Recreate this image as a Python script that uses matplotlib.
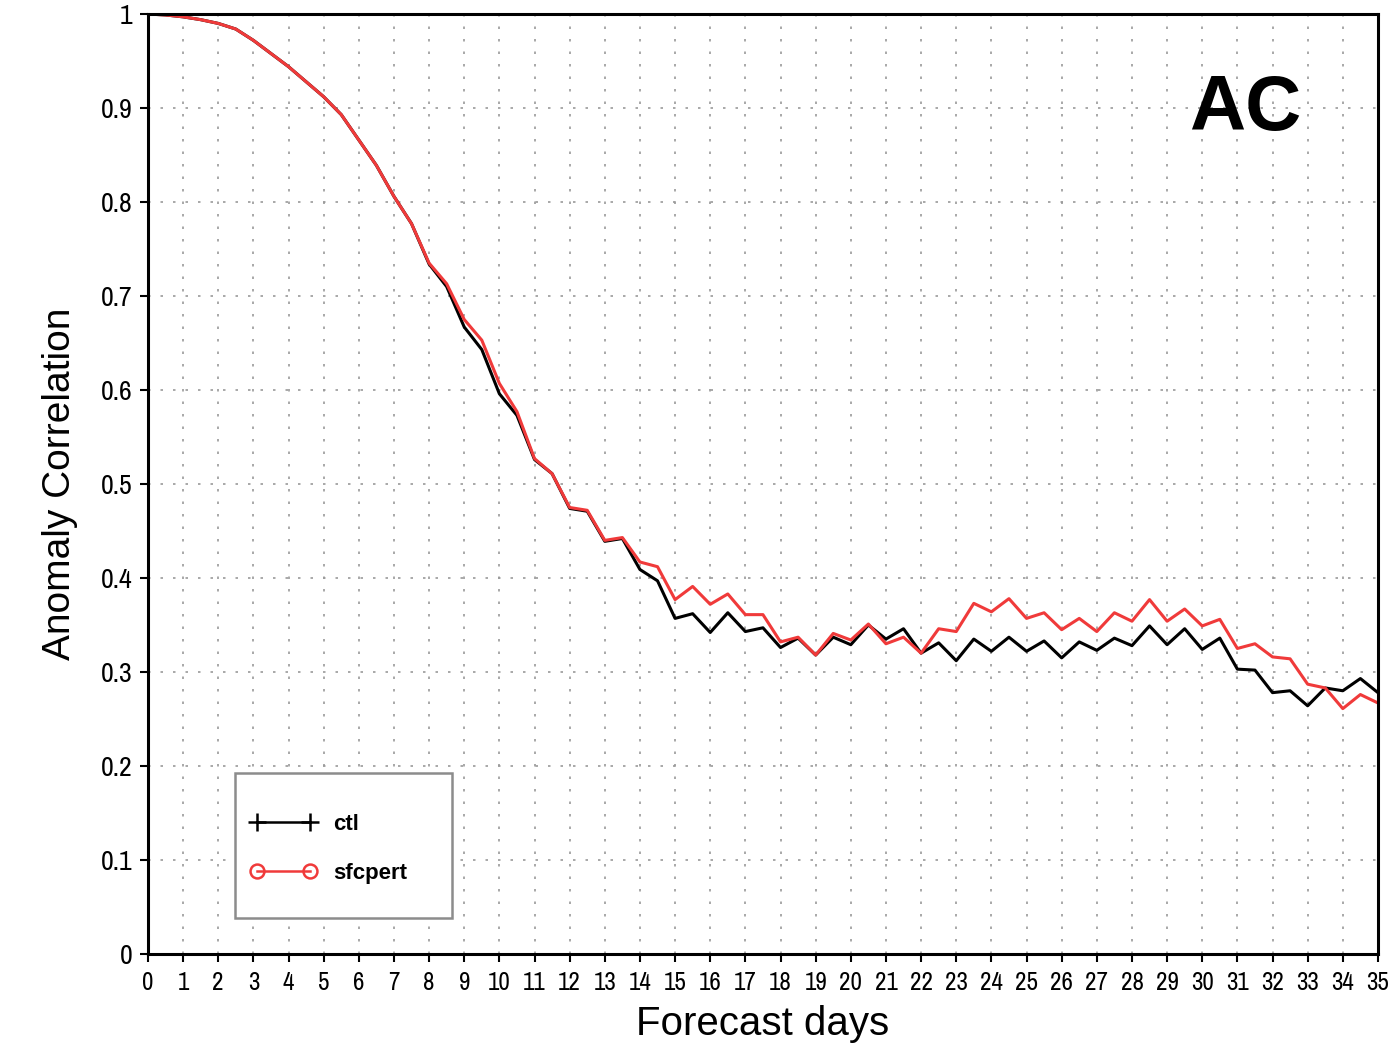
"""
plot.py — Anomaly Correlation vs forecast days (ctl vs sfcpert)
"""

import numpy as np

import matplotlib
matplotlib.use("Agg")
import matplotlib.pyplot as plt
from matplotlib import font_manager
from matplotlib.font_manager import FontProperties
from matplotlib.lines import Line2D
from matplotlib.patches import Rectangle

# forecast lead (days), every 12 h
days = np.arange(0, 35.5, 0.5)

ctl = [
    1.000, 0.999, 0.997, 0.994, 0.990, 0.984, 0.972, 0.958, 0.944, 0.928,
    0.912, 0.893, 0.866, 0.839, 0.806, 0.777, 0.734, 0.710, 0.667, 0.643,
    0.596, 0.573, 0.526, 0.511, 0.474, 0.471, 0.439, 0.442, 0.409, 0.397,
    0.357, 0.362, 0.342, 0.363, 0.343, 0.347, 0.326, 0.336, 0.318, 0.337,
    0.329, 0.350, 0.335, 0.346, 0.320, 0.331, 0.312, 0.335, 0.322, 0.337,
    0.322, 0.333, 0.315, 0.332, 0.323, 0.336, 0.328, 0.349, 0.329, 0.346,
    0.324, 0.336, 0.303, 0.302, 0.278, 0.280, 0.264, 0.283, 0.280, 0.293,
    0.278,
]

sfcpert = [
    1.000, 0.999, 0.997, 0.994, 0.990, 0.984, 0.972, 0.958, 0.944, 0.928,
    0.912, 0.893, 0.866, 0.839, 0.806, 0.777, 0.735, 0.713, 0.675, 0.653,
    0.607, 0.577, 0.527, 0.511, 0.475, 0.472, 0.440, 0.443, 0.417, 0.412,
    0.377, 0.391, 0.372, 0.383, 0.361, 0.361, 0.332, 0.337, 0.318, 0.341,
    0.334, 0.351, 0.330, 0.337, 0.320, 0.346, 0.343, 0.373, 0.364, 0.378,
    0.357, 0.363, 0.345, 0.357, 0.343, 0.363, 0.354, 0.377, 0.354, 0.367,
    0.349, 0.356, 0.325, 0.330, 0.316, 0.314, 0.287, 0.283, 0.261, 0.276,
    0.267,
]

xticks = list(range(0, 36))
yticks = [0, 0.1, 0.2, 0.3, 0.4, 0.5, 0.6, 0.7, 0.8, 0.9, 1.0]
ytick_labels = ["0", "0.1", "0.2", "0.3", "0.4", "0.5", "0.6", "0.7", "0.8", "0.9", "1"]

RED = "#f03a3a"


def pick_font(candidates, default="DejaVu Sans"):
    names = {f.name for f in font_manager.fontManager.ttflist}
    for c in candidates:
        if c in names:
            return c
    return default


def _weight(f):
    w = f.weight
    if isinstance(w, str):
        w = font_manager.weight_dict.get(w, 400)
    return w


def narrow_font(size):
    """Thin condensed face for tick labels (GrADS look); falls back to SANS."""
    found = []
    for f in font_manager.fontManager.ttflist:
        narrow = ("Condensed" in f.name or "Narrow" in f.name
                  or f.stretch in ("condensed", "semi-condensed", "extra-condensed"))
        if narrow and f.style == "normal" and _weight(f) <= 400:
            found.append(f)
    if found:
        found.sort(key=lambda f: (abs(_weight(f) - 350), f.name))
        return FontProperties(fname=found[0].fname, size=size)
    return FontProperties(family=SANS, size=size * 0.8)


SANS = pick_font(["Liberation Sans", "DejaVu Sans"])
XTICK_FONT = narrow_font(18)
YTICK_FONT = narrow_font(20)


def plot(outpath):
    fig = plt.figure(figsize=(13.93, 10.46), dpi=100)
    ax = fig.add_axes([0.1062, 0.0880, 0.8830, 0.8986])

    ax.plot(days, ctl, color="black", lw=2.2, zorder=3)
    ax.plot(days, sfcpert, color=RED, lw=2.2, zorder=4)

    ax.set_xlim(0, 35)
    ax.set_ylim(0, 1)
    ax.set_xticks(xticks)
    ax.set_xticklabels([str(t) for t in xticks], fontproperties=XTICK_FONT)
    ax.set_yticks(yticks)
    ax.set_yticklabels(ytick_labels, fontproperties=YTICK_FONT)
    ax.tick_params(direction="out", length=6, width=1.5, color="black")
    ax.tick_params(axis="x", pad=6)
    ax.tick_params(axis="y", pad=5)

    ax.grid(True, color="#9a9a9a", lw=1.2, linestyle=(0, (1.5, 6)))
    ax.set_axisbelow(True)
    for sp in ax.spines.values():
        sp.set_linestyle((0, (4, 1)))
        sp.set_linewidth(2.2)
        sp.set_zorder(5)

    ax.set_ylabel("Anomaly Correlation", fontfamily=SANS, fontsize=28)
    ax.yaxis.set_label_coords(-0.057, 0.5)
    ax.set_xlabel("Forecast days", fontfamily=SANS, fontsize=29)
    ax.xaxis.set_label_coords(0.5, -0.054)

    ax.text(0.892, 0.898, "AC", transform=ax.transAxes, ha="center", va="center",
            fontfamily=SANS, fontweight="bold", fontsize=56)

    # legend box
    ax.add_patch(Rectangle((0.0707, 0.0383), 0.1765, 0.1543, transform=ax.transAxes,
                           fill=True, facecolor="white", edgecolor="#8c8c8c",
                           lw=1.8, zorder=6))
    handles = [
        Line2D([], [], color="black", lw=1.8, marker="+", markersize=13, mew=1.8),
        Line2D([], [], color=RED, lw=1.8, marker="o", markersize=10, mew=1.8,
               mfc="none"),
    ]
    leg = ax.legend(handles, ["ctl", "sfcpert"], loc="upper left",
                    bbox_to_anchor=(0.0829, 0.149), frameon=False, numpoints=2,
                    borderpad=0, borderaxespad=0, handlelength=3.0,
                    handletextpad=0.75, labelspacing=1.25,
                    prop={"family": SANS, "weight": "bold", "size": 16})
    leg.set_zorder(7)

    fig.savefig(outpath, dpi=100)
    plt.close(fig)


if __name__ == "__main__":
    plot("out.png")
